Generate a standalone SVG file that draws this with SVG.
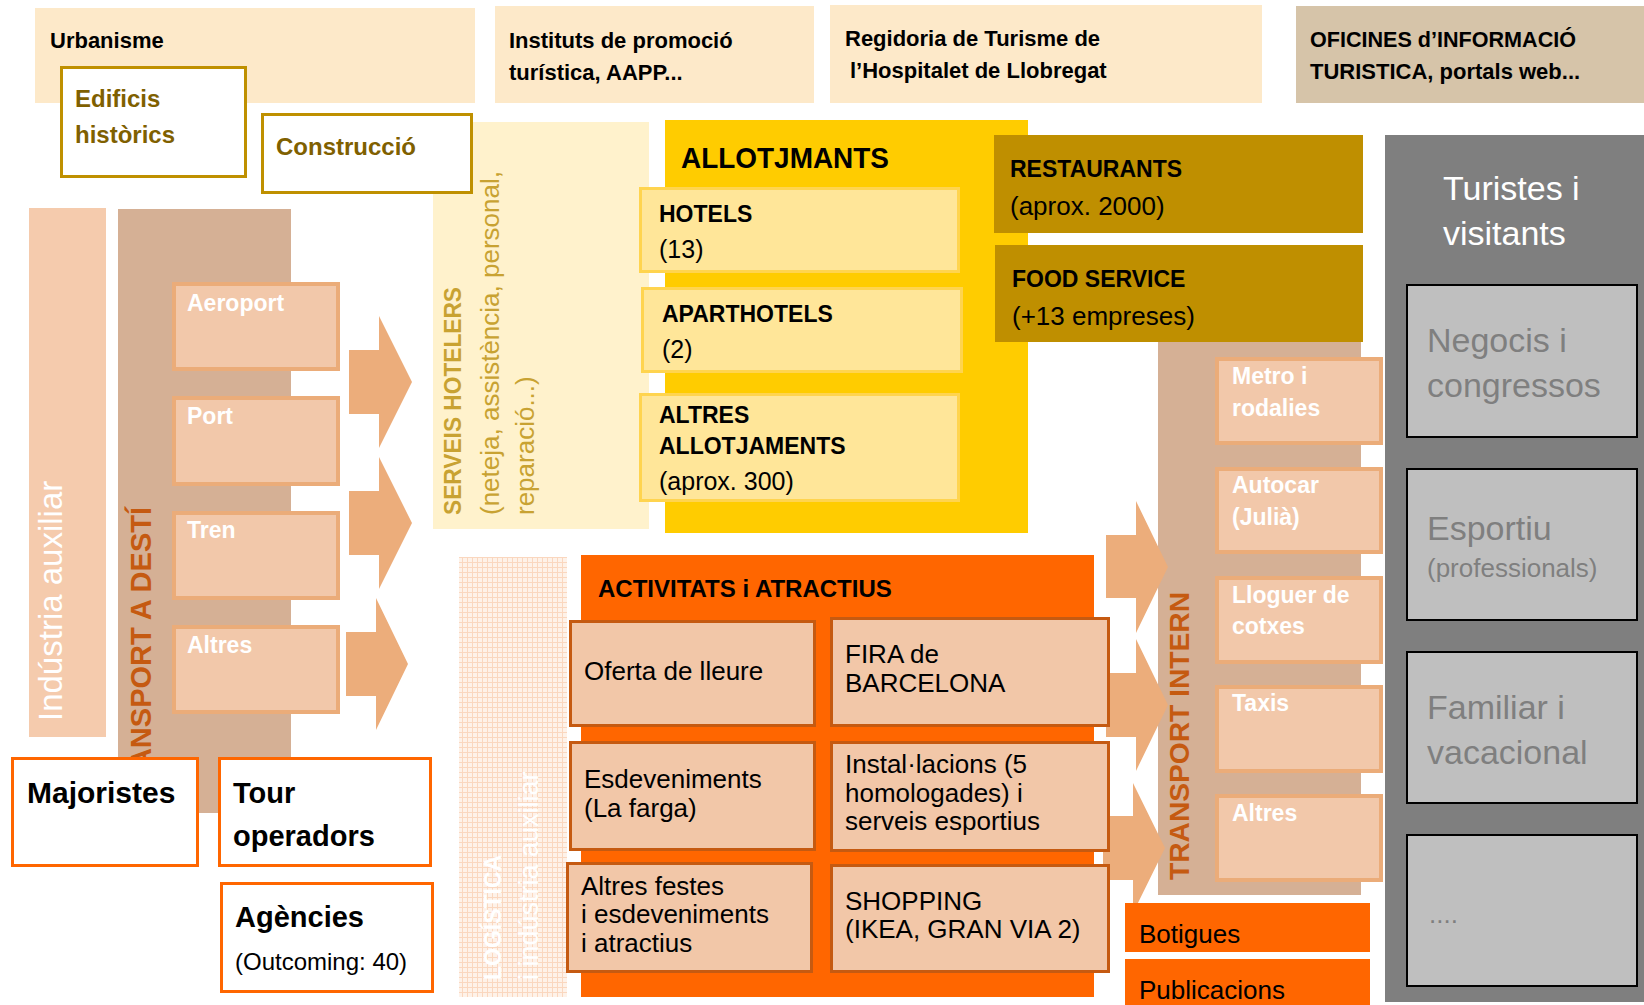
<svg xmlns="http://www.w3.org/2000/svg" width="1644" height="1005" viewBox="0 0 1644 1005">
<defs>
<pattern id="grid" width="5" height="5" patternUnits="userSpaceOnUse">
<rect width="5" height="5" fill="#FEF2E9"/>
<rect x="0" y="2" width="5" height="1" fill="#FAD7BF"/>
<rect x="2" y="0" width="1" height="5" fill="#FAD7BF"/>
</pattern>
<style>
text { font-family: "Liberation Sans", Arial, sans-serif; }
.b { font-weight: bold; }
.top { fill: #FDE9C9; }
.hdr { font-size: 22px; font-weight: bold; fill: #000; }
.gold { fill: #FFFFFF; stroke: #BF9000; stroke-width: 3; }
.olive { font-size: 24px; font-weight: bold; fill: #7F6000; }
.serv { fill: #C8A232; }
.ylw { fill: #FFE699; stroke: #FFD44F; stroke-width: 3; }
.yb { font-size: 23px; font-weight: bold; fill: #000; }
.yr { font-size: 25px; fill: #000; }
.rest { fill: #BF8F00; }
.rr { font-size: 26px; fill: #000; }
.tan { fill: #D5B095; }
.sub { fill: #F2C8AA; stroke: #EBAC79; stroke-width: 4; }
.wl { font-size: 23px; font-weight: bold; fill: #FFFFFF; }
.tlab { font-weight: bold; fill: #C55A11; }
.arrow { fill: #ECAD7B; }
.act { fill: #F2C7A8; stroke: #C55A11; stroke-width: 3; }
.at { font-size: 26px; fill: #000; }
.org { fill: #FFFFFF; stroke: #FF6600; stroke-width: 3; }
.ob { font-weight: bold; fill: #000; }
.gbox { fill: #BFBFBF; stroke: #000; stroke-width: 2; }
.gt { font-size: 34px; fill: #7F7F7F; }
</style>
</defs>
<rect width="1644" height="1005" fill="#FFFFFF"/>

<g id="urbanisme">
<rect class="top" x="35" y="8" width="440" height="95"/>
<text class="hdr" x="50" y="48">Urbanisme</text>
</g>
<g id="instituts">
<rect class="top" x="495" y="6" width="319" height="97"/>
<text class="hdr" x="509" y="48">Instituts de promoció</text>
<text class="hdr" x="509" y="80">turística, AAPP...</text>
</g>
<g id="regidoria">
<rect class="top" x="830" y="5" width="432" height="98"/>
<text class="hdr" x="845" y="46">Regidoria de Turisme de</text>
<text class="hdr" x="850" y="78">l’Hospitalet de Llobregat</text>
</g>
<g id="oficines">
<rect x="1296" y="6" width="348" height="97" fill="#D6C4A9"/>
<text class="hdr" x="1310" y="47" textLength="266" lengthAdjust="spacingAndGlyphs">OFICINES d’INFORMACIÓ</text>
<text class="hdr" x="1310" y="79">TURISTICA, portals web...</text>
</g>

<g id="serveis-hotelers">
<rect x="433" y="122" width="216" height="407" fill="#FFF2CC"/>
<text class="serv b" font-size="23" transform="translate(461,515) rotate(-90)" textLength="228" lengthAdjust="spacingAndGlyphs">SERVEIS HOTELERS</text>
<text class="serv" font-size="26" transform="translate(499,515) rotate(-90)">(neteja, assistència, personal,</text>
<text class="serv" font-size="26" transform="translate(534,515) rotate(-90)">reparació...)</text>
</g>

<g id="edificis">
<rect class="gold" x="61.5" y="67.5" width="184" height="109"/>
<text class="olive" x="75" y="107">Edificis</text>
<text class="olive" x="75" y="143">històrics</text>
</g>
<g id="construccio">
<rect class="gold" x="262.5" y="114.5" width="209" height="78"/>
<text class="olive" x="276" y="155">Construcció</text>
</g>

<g id="industria-auxiliar">
<rect x="29" y="208" width="77" height="529" fill="#F5CBAD"/>
<text font-size="33" fill="#FFFFFF" transform="translate(62,721) rotate(-90)">Indústria auxiliar</text>
</g>

<g id="transport-desti">
<rect class="tan" x="118" y="209" width="173" height="604"/>
<text class="tlab" font-size="29" text-anchor="end" transform="translate(151,507) rotate(-90)">TRANSPORT A DESTÍ</text>
<rect class="sub" x="174" y="284" width="164" height="85"/>
<text class="wl" x="187" y="311">Aeroport</text>
<rect class="sub" x="174" y="398" width="164" height="86"/>
<text class="wl" x="187" y="424">Port</text>
<rect class="sub" x="174" y="513" width="164" height="85"/>
<text class="wl" x="187" y="538">Tren</text>
<rect class="sub" x="174" y="627" width="164" height="85"/>
<text class="wl" x="187" y="653">Altres</text>
</g>

<g id="allotjaments">
<rect x="665" y="120" width="363" height="413" fill="#FFCC00"/>
<text class="b" font-size="30" x="681" y="168" textLength="208" lengthAdjust="spacingAndGlyphs">ALLOTJMANTS</text>
<rect class="ylw" x="640.5" y="188.5" width="318" height="83"/>
<text class="yb" x="659" y="222">HOTELS</text>
<text class="yr" x="659" y="258">(13)</text>
<rect class="ylw" x="642.5" y="288.5" width="319" height="83"/>
<text class="yb" x="662" y="322">APARTHOTELS</text>
<text class="yr" x="662" y="358">(2)</text>
<rect class="ylw" x="640.5" y="394.5" width="318" height="106"/>
<text class="yb" x="659" y="423">ALTRES</text>
<text class="yb" x="659" y="454">ALLOTJAMENTS</text>
<text class="yr" x="659" y="490">(aprox. 300)</text>
</g>

<g id="restaurants">
<rect class="rest" x="994" y="135" width="369" height="98"/>
<text class="yb" x="1010" y="177">RESTAURANTS</text>
<text class="rr" x="1010" y="215">(aprox. 2000)</text>
</g>
<g id="food-service">
<rect class="rest" x="995" y="245" width="368" height="97"/>
<text class="yb" x="1012" y="287">FOOD SERVICE</text>
<text class="rr" x="1012" y="325">(+13 empreses)</text>
</g>

<g id="transport-intern">
<rect class="tan" x="1158" y="342" width="203" height="553"/>
<text class="tlab" font-size="28" transform="translate(1189,880) rotate(-90)" textLength="288" lengthAdjust="spacingAndGlyphs">TRANSPORT INTERN</text>
<rect class="sub" x="1217" y="359" width="164" height="84"/>
<text class="wl" x="1232" y="384">Metro i</text>
<text class="wl" x="1232" y="416">rodalies</text>
<rect class="sub" x="1217" y="469" width="164" height="83"/>
<text class="wl" x="1232" y="493">Autocar</text>
<text class="wl" x="1232" y="525">(Julià)</text>
<rect class="sub" x="1217" y="578" width="164" height="84"/>
<text class="wl" x="1232" y="603">Lloguer de</text>
<text class="wl" x="1232" y="634">cotxes</text>
<rect class="sub" x="1217" y="687" width="164" height="84"/>
<text class="wl" x="1232" y="711">Taxis</text>
<rect class="sub" x="1217" y="796" width="164" height="84"/>
<text class="wl" x="1232" y="821">Altres</text>
</g>

<g id="logistica">
<rect x="459" y="557" width="108" height="440" fill="url(#grid)"/>
<text class="b" font-size="23" fill="#FFFFFF" transform="translate(501,980) rotate(-90)">LOGÍSTICA</text>
<text font-size="27" fill="#FFFFFF" transform="translate(538,980) rotate(-90)">i indústria auxiliar</text>
</g>

<g id="connectors">
<polygon class="arrow" points="349,350 379,350 379,316 412,382 379,448 379,414 349,414"/>
<polygon class="arrow" points="349,491 379,491 379,457 412,523 379,589 379,555 349,555"/>
<polygon class="arrow" points="346,632 376,632 376,598 408,664 376,730 376,696 346,696"/>
<polygon class="arrow" points="1106,535 1136,535 1136,501 1168,567 1136,633 1136,598 1106,598"/>
<polygon class="arrow" points="1106,673 1136,673 1136,639 1168,705 1136,771 1136,737 1106,737"/>
<polygon class="arrow" points="1103,816 1133,816 1133,783 1165,848 1133,913 1133,880 1103,880"/>
</g>

<g id="activitats">
<rect x="581" y="555" width="513" height="442" fill="#FF6600"/>
<text class="b" font-size="24" x="598" y="597">ACTIVITATS i ATRACTIUS</text>
<rect class="act" x="570.5" y="621.5" width="244" height="104"/>
<text class="at" x="584" y="680">Oferta de lleure</text>
<rect class="act" x="831.5" y="618.5" width="277" height="107"/>
<text class="at" x="845" y="663">FIRA de</text>
<text class="at" x="845" y="692">BARCELONA</text>
<rect class="act" x="570.5" y="742.5" width="244" height="107"/>
<text class="at" x="584" y="788">Esdeveniments</text>
<text class="at" x="584" y="817">(La farga)</text>
<rect class="act" x="831.5" y="742.5" width="277" height="108"/>
<text class="at" x="845" y="773">Instal·lacions (5</text>
<text class="at" x="845" y="802">homologades) i</text>
<text class="at" x="845" y="830">serveis esportius</text>
<rect class="act" x="567.5" y="863.5" width="244" height="108"/>
<text class="at" x="581" y="895">Altres festes</text>
<text class="at" x="581" y="923">i esdeveniments</text>
<text class="at" x="581" y="952">i atractius</text>
<rect class="act" x="831.5" y="865.5" width="277" height="106"/>
<text class="at" x="845" y="910">SHOPPING</text>
<text class="at" x="845" y="938">(IKEA, GRAN VIA 2)</text>
</g>

<g id="botigues">
<rect x="1125" y="903" width="245" height="49" fill="#FF6600"/>
<text class="at" x="1139" y="943">Botigues</text>
</g>
<g id="publicacions">
<rect x="1125" y="959" width="245" height="46" fill="#FF6600"/>
<text class="at" x="1139" y="999">Publicacions</text>
</g>

<g id="majoristes">
<rect class="org" x="12.5" y="758.5" width="185" height="107"/>
<text class="ob" font-size="30" x="27" y="803">Majoristes</text>
</g>
<g id="tour-operadors">
<rect class="org" x="219.5" y="758.5" width="211" height="107"/>
<text class="ob" font-size="29" x="233" y="803">Tour</text>
<text class="ob" font-size="29" x="233" y="846">operadors</text>
</g>
<g id="agencies">
<rect class="org" x="221.5" y="883.5" width="211" height="108"/>
<text class="ob" font-size="29" x="235" y="927">Agències</text>
<text font-size="24" x="235" y="970" fill="#000">(Outcoming: 40)</text>
</g>

<g id="turistes">
<rect x="1385" y="135" width="259" height="867" fill="#7F7F7F"/>
<text font-size="34" fill="#FFFFFF" x="1443" y="200">Turistes i</text>
<text font-size="34" fill="#FFFFFF" x="1443" y="245">visitants</text>
</g>
<g id="negocis">
<rect class="gbox" x="1407" y="285" width="230" height="152"/>
<text class="gt" x="1427" y="352">Negocis i</text>
<text class="gt" x="1427" y="397">congressos</text>
</g>
<g id="esportiu">
<rect class="gbox" x="1407" y="469" width="230" height="151"/>
<text class="gt" x="1427" y="540">Esportiu</text>
<text font-size="26" fill="#7F7F7F" x="1427" y="577">(professionals)</text>
</g>
<g id="familiar">
<rect class="gbox" x="1407" y="652" width="230" height="151"/>
<text class="gt" x="1427" y="719">Familiar i</text>
<text class="gt" x="1427" y="764">vacacional</text>
</g>
<g id="altres-turistes">
<rect class="gbox" x="1407" y="835" width="230" height="151"/>
<text font-size="26" fill="#7F7F7F" x="1429" y="923">....</text>
</g>
</svg>
